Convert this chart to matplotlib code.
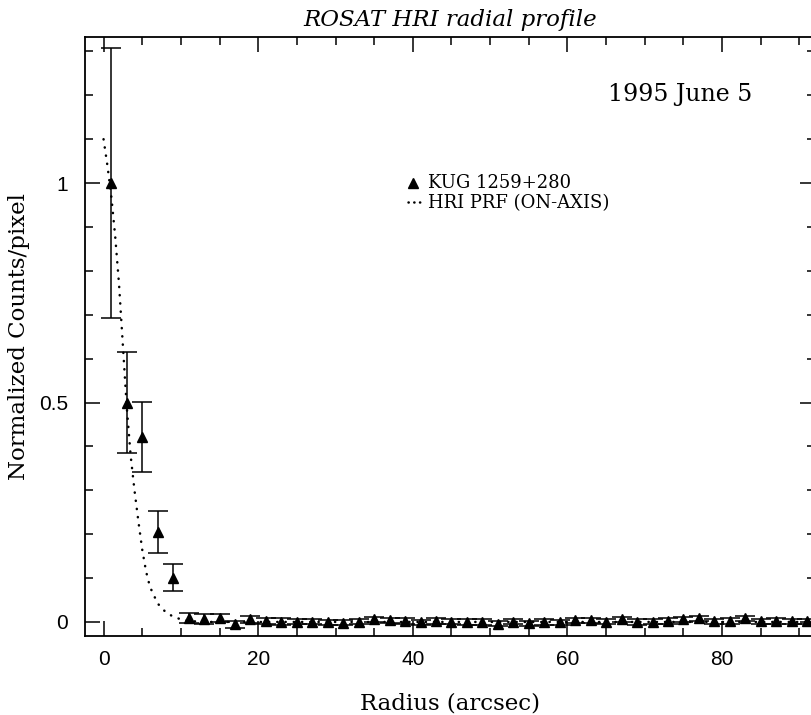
import numpy as np
import matplotlib
matplotlib.use("Agg")
import matplotlib.pyplot as plt
from matplotlib.ticker import MultipleLocator

# radial profile bins (arcsec) and normalized counts
radius = np.arange(1, 92, 2)
counts = [1.000, 0.500, 0.422, 0.204, 0.101,
          0.009, 0.007, 0.009, -0.005, 0.006, 0.003, 0.001, 0.001, 0.001,
          -0.001, -0.002, 0.001, 0.006, 0.004, 0.002, -0.001, 0.002, 0.001,
          0.000, 0.000, -0.004, 0.001, -0.003, 0.000, -0.001, 0.004, 0.004,
          0.001, 0.006, 0.000, 0.001, 0.002, 0.006, 0.008, 0.0015, 0.002,
          0.008, 0.0015, 0.002, 0.0015, 0.0015]
errors = [0.307, 0.115, 0.080, 0.048, 0.031,
          0.012, 0.011, 0.010, 0.008, 0.008, 0.007, 0.007, 0.006, 0.006,
          0.006, 0.006, 0.006, 0.006, 0.006, 0.006, 0.006, 0.006, 0.006,
          0.006, 0.006, 0.006, 0.006, 0.006, 0.006, 0.006, 0.006, 0.006,
          0.006, 0.006, 0.006, 0.006, 0.006, 0.006, 0.006, 0.006, 0.006,
          0.006, 0.006, 0.006, 0.006, 0.006]

# on-axis HRI point response function
prf_r = [0, 0.5, 1, 1.5, 2, 2.5, 3, 3.5, 4, 4.5, 5, 5.5, 6, 7, 8, 9, 10,
         11, 12, 14, 92]
prf_y = [1.10, 1.04, 0.97, 0.88, 0.77, 0.63, 0.49, 0.38, 0.30, 0.23, 0.165,
         0.115, 0.08, 0.042, 0.023, 0.012, 0.006, 0.003, 0.001, 0.0, 0.0]

serif = "DejaVu Serif"
sans = "Liberation Sans"
dotted = (0, (0.1, 3.2))

fig = plt.figure(figsize=(8.11, 7.15), dpi=100)
ax = fig.add_axes([0.1048, 0.1105, 0.900, 0.8378])

ax.plot(prf_r, prf_y, color="black", lw=1.8, linestyle=dotted,
        dash_capstyle="round")
ax.errorbar(radius, counts, yerr=errors, fmt="^", color="black", ms=7.5,
            capsize=7, elinewidth=1.1, capthick=1.1)

ax.set_xlim(-2.4, 92)
ax.set_ylim(-0.032, 1.333)

ax.xaxis.set_major_locator(MultipleLocator(20))
ax.xaxis.set_minor_locator(MultipleLocator(5))
ax.yaxis.set_major_locator(MultipleLocator(0.5))
ax.yaxis.set_minor_locator(MultipleLocator(0.1))
ax.yaxis.set_major_formatter(plt.FuncFormatter(lambda v, p: "%g" % v))
ax.tick_params(which="both", direction="in", top=True, right=True, width=1.1)
ax.tick_params(which="major", length=11, labelsize=15)
ax.tick_params(which="minor", length=6)
ax.tick_params(axis="x", which="major", pad=10)
ax.tick_params(axis="y", which="major", pad=12)
for lab in ax.get_xticklabels() + ax.get_yticklabels():
    lab.set_family(sans)
for sp in ax.spines.values():
    sp.set_linewidth(1.3)

ax.set_title("ROSAT HRI radial profile", family=serif, style="italic",
             fontsize=16.5, pad=8)
ax.set_xlabel("Radius (arcsec)", family=serif, fontsize=16.5)
ax.set_ylabel("Normalized Counts/pixel", family=serif, fontsize=16.5)
ax.xaxis.set_label_coords(0.5, -0.095)
ax.yaxis.set_label_coords(-0.076, 0.5)

# key
ax.plot([40], [1.0], "^", color="black", ms=7)
ax.text(42, 1.0, "KUG 1259+280", family=serif, fontsize=13, va="center")
ax.plot([39.4, 41.6], [0.956, 0.956], color="black", lw=1.8,
        linestyle=(0, (0.1, 2.2)), dash_capstyle="round")
ax.text(42, 0.954, "HRI PRF (ON-AXIS)", family=serif, fontsize=13,
        va="center")

ax.text(65.2, 1.203, "1995 June 5", family=serif, fontsize=17, va="center")

fig.savefig("out.png", dpi=100)
